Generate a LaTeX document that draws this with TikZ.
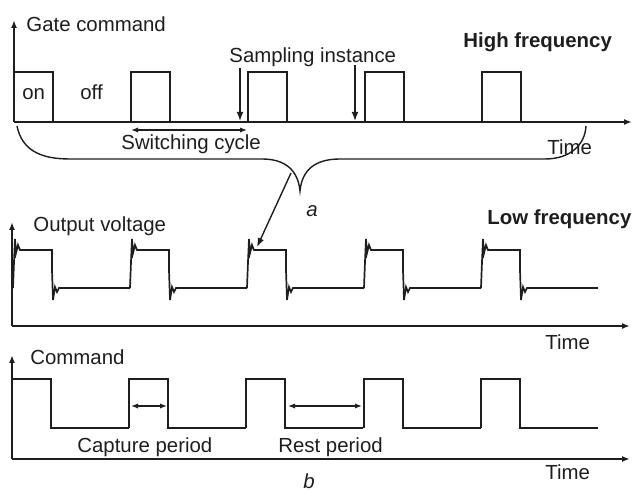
\documentclass[tikz,border=0pt]{standalone}
\usepackage{fontspec}
\setmainfont{Liberation Sans}
\usetikzlibrary{arrows.meta,positioning,calc}
\definecolor{winkink}{HTML}{1E1E1E}
\tikzset{
  ax/.style={-{Latex[length=4pt,width=3pt]},line width=0.8pt,draw=winkink},
  wave/.style={line width=0.85pt,draw=winkink,line join=miter},
  arr/.style={-{Latex[length=4.5pt,width=3.4pt]},line width=0.7pt,draw=winkink},
  darr/.style={{Latex[length=3.5pt,width=2.6pt]}-{Latex[length=3.5pt,width=2.6pt]},line width=0.6pt,draw=winkink},
  brc/.style={line width=0.7pt,draw=winkink},
  lbl/.style={font=\fontsize{10.2}{12}\selectfont,text=winkink,inner sep=0pt,anchor=base west},
  blbl/.style={lbl,font=\fontsize{10.2}{12}\selectfont\bfseries},
  ilbl/.style={lbl,font=\fontsize{10.2}{12}\selectfont\itshape},
}
\begin{document}
\begin{tikzpicture}[x=0.5pt,y=-0.5pt]
  \useasboundingbox (0,0) rectangle (633,491);

  % a: gate command, high frequency
  \coordinate (g0) at (14,122);
  \draw[ax] (g0) -- (14,20);
  \draw[ax] (g0) -- (632,122);
  \foreach \x in {14,131,248,365,482}
    \draw[wave] (\x,122) -- (\x,72) -- ({\x+39},72) -- ({\x+39},122);
  \node[lbl] (gate) at (26,32) {Gate command};
  \node[lbl] (on) at (22,100) {on};
  \node[lbl] (off) at (80,100) {off};
  \node[lbl] (samp) at (229,63) {Sampling instance};
  \node[blbl] (hf) at (463,48) {High frequency};
  \coordinate (s1) at (240,121);
  \coordinate (s2) at (355,121);
  \draw[arr] (samp.south -| s1) -- (s1);
  \draw[arr] (s2 |- 0,65) -- (s2);
  \coordinate (c1) at (131,130);
  \coordinate (c2) at (247,130);
  \draw[darr] (c1) -- (c2);
  \node[lbl] (sw) at (121,150) {Switching cycle};
  \node[lbl] (t1) at (547,155) {Time};
  \coordinate (bl) at (17,126);
  \coordinate (btip) at (300,191);
  \coordinate (br) at (586,126);
  \draw[brc] (bl) .. controls (22,150) and (40,159) .. (70,159) -- (262,159)
    .. controls (285,159) and (298,170) .. (btip)
    .. controls (302,170) and (315,159) .. (340,159) -- (545,159)
    .. controls (570,159) and (585,145) .. (br);
  \node[ilbl] (la) at (306,217) {a};

  % output voltage, low frequency
  \coordinate (v0) at (12,326);
  \draw[ax] (v0) -- (12,222);
  \draw[ax] (v0) -- (630,326);
  \foreach \r [count=\i] in {13,130,247,364,481}
    \draw[wave] (\r,288) -- ({\r+1},262) -- ({\r+2},239) -- ({\r+3},253) -- ({\r+5},245)
      -- ({\r+7},250) -- ({\r+39},250) -- ({\r+39},270) -- ({\r+40},300) -- ({\r+42},287)
      -- ({\r+44},292) -- ({\r+46},288) -- ({\r+117},288);
  \node[lbl] (ov) at (33,232) {Output voltage};
  \node[blbl] (lf) at (487,225) {Low frequency};
  \node[lbl] (t2) at (545,350) {Time};
  \coordinate (pk) at (257,247);
  \draw[arr] (291,173) coordinate (bs) -- (pk);

  % b: command
  \coordinate (k0) at (12,459);
  \draw[ax] (k0) -- (12,355);
  \draw[ax] (k0) -- (630,459);
  \foreach \x in {12,129,246,364,481}
    \draw[wave] (\x,428) -- (\x,379) -- ({\x+39},379) -- ({\x+39},428) -- ({\x+117},428);
  \node[lbl] (cmd) at (30,365) {Command};
  \coordinate (p1) at (131,406);
  \coordinate (p2) at (167,406);
  \coordinate (p3) at (288,406);
  \coordinate (p4) at (362,406);
  \draw[darr] (p1) -- (p2);
  \draw[darr] (p3) -- (p4);
  \node[lbl] (cap) at (77,453) {Capture period};
  \node[lbl] (rest) at (278,453) {Rest period};
  \node[lbl] (t3) at (545,480) {Time};
  \node[ilbl] (lb) at (303,489) {b};
\end{tikzpicture}
\end{document}
